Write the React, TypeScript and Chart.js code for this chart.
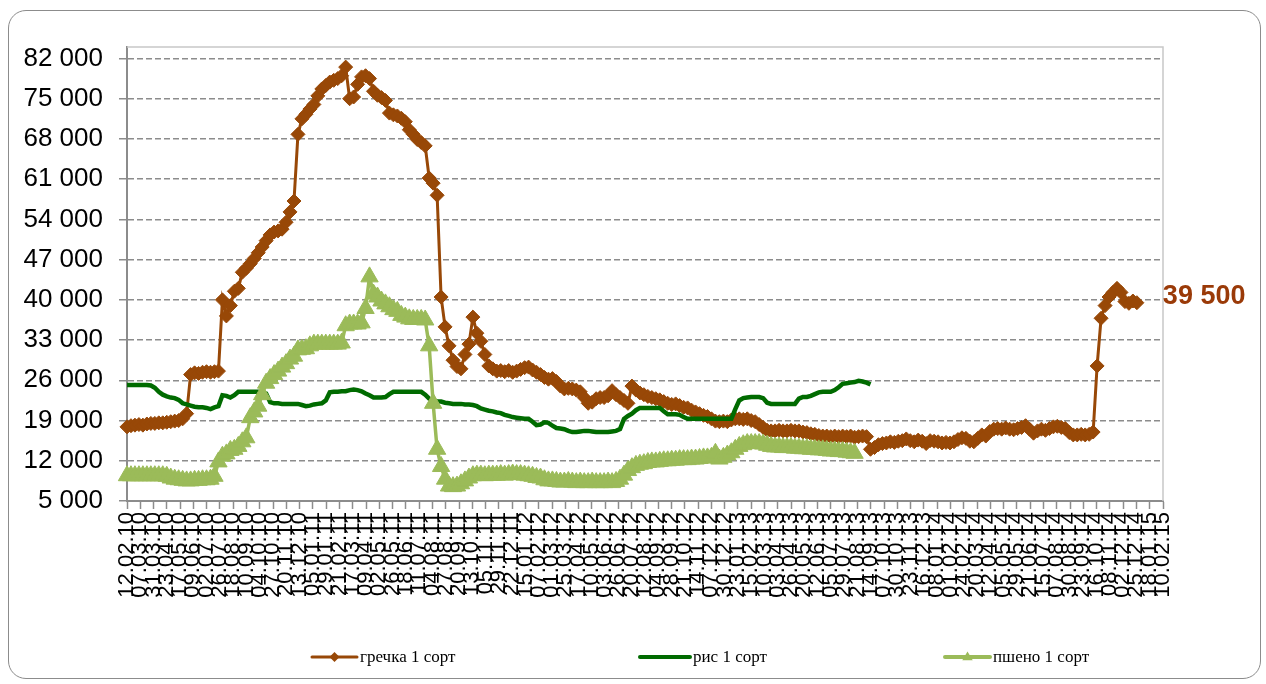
import React, { useEffect, useRef } from 'react';
import { Chart, registerables } from 'chart.js';

Chart.register(...registerables);

// ---------- data ----------
const SERIES_NAMES = ['гречка 1 сорт', 'рис 1 сорт', 'пшено 1 сорт'];

// x-axis tick labels (dd.mm.yy), evenly spread over the period 12.02.10 – 10.02.15
const X_LABELS = [
  '12.02.10', '07.03.10', '31.03.10', '23.04.10', '17.05.10', '09.06.10', '02.07.10', '26.07.10',
  '18.08.10', '10.09.10', '04.10.10', '27.10.10', '20.11.10', '13.12.10', '05.01.11', '29.01.11',
  '21.02.11', '17.03.11', '09.04.11', '02.05.11', '26.05.11', '18.06.11', '11.07.11', '04.08.11',
  '27.08.11', '20.09.11', '13.10.11', '05.11.11', '29.11.11', '22.12.11', '15.01.12', '07.02.12',
  '01.03.12', '25.03.12', '17.04.12', '10.05.12', '03.06.12', '26.06.12', '20.07.12', '12.08.12',
  '04.09.12', '28.09.12', '21.10.12', '14.11.12', '07.12.12', '30.12.12', '23.01.13', '15.02.13',
  '10.03.13', '03.04.13', '26.04.13', '20.05.13', '12.06.13', '05.07.13', '29.07.13', '21.08.13',
  '14.09.13', '07.10.13', '30.10.13', '23.11.13', '16.12.13', '08.01.14', '01.02.14', '24.02.14',
  '20.03.14', '12.04.14', '05.05.14', '29.05.14', '21.06.14', '15.07.14', '07.08.14', '30.08.14',
  '23.09.14', '16.10.14', '08.11.14', '02.12.14', '25.12.14', '18.01.15', '10.02.15',
];

// period length in weeks (12.02.10 .. 10.02.15 = 1824 days)
const TOTAL_WEEKS = 1824 / 7;

const Y_TICKS = [5000, 12000, 19000, 26000, 33000, 40000, 47000, 54000, 61000, 68000, 75000, 82000];
const Y_MIN = 5000;
const Y_MAX = 84000;

// weekly prices
const BUCKWHEAT = [
  17900, 18100, 18200, 18300, 18200, 18400, 18500, 18500, 18600, 18600, 18700, 18800, 18900, 19000, 19300,
  20200, 27000, 27300, 27200, 27400, 27500, 27400, 27500, 27600,
  40000, 37200, 39000, 41500, 42000, 44800,
  45500, 46300, 47200, 48200, 49200, 50300, 51300, 51800, 52000, 52300,
  53500, 55300, 57200, 68800, 71500, 72300, 73200, 74000, 75500, 76700,
  77300, 77900, 78200, 78500, 79000, 80500, 75000, 75300, 77500, 78800,
  79000, 78500, 76300, 75600, 75200, 74700, 72500, 72200, 72000, 71600,
  71000, 69600, 68800, 67900, 67400, 66800, 61200, 60300, 58200, 40500,
  35300, 32000, 29500, 28400, 28000, 30500, 32300, 37000, 34200, 32800,
  30500, 28500, 28000, 27600, 27700, 27500, 27700, 27400, 27600, 27900,
  28200, 28300, 27800, 27400, 27000, 26500, 26200, 26300, 25800, 25000,
  24500, 24600, 24500, 24300, 24000, 23000, 22000, 22200, 22800, 23000,
  23000, 23300, 24200, 23500, 23000, 22500, 22000, 25000, 24300, 23800,
  23500, 23200, 23000, 22800, 22600, 22300, 22000, 21800, 21900, 21600,
  21300, 21200, 20800, 20500, 20200, 19900, 19700, 19300, 18900, 18800,
  18900, 18800, 19100, 19300, 19300, 19200, 19300, 19000, 18800, 18300,
  17800, 17300, 17200, 17200, 17300, 17200, 17200, 17300, 17200, 17200,
  17000, 16900, 16700, 16600, 16400, 16300, 16300, 16200, 16300, 16200,
  16300, 16200, 16300, 16100, 16200, 16300, 16200, 14000, 14300, 14800,
  15000, 15100, 15300, 15200, 15400, 15500, 15800, 15500, 15300, 15600,
  15400, 15000, 15500, 15400, 15300, 15100, 15200, 15100, 15300, 15700,
  16000, 15900, 15400, 15300, 15900, 16500, 16300, 17100, 17500, 17600,
  17500, 17700, 17500, 17400, 17600, 17800, 18100, 17500, 16800, 17200,
  17500, 17300, 17600, 17900, 18000, 17800, 17600, 16900, 16500, 16500,
  16600, 16500, 16600, 17000, 28500, 36800, 39000, 40500, 41300, 42000,
  41300, 39700, 39400, 39800, 39500,
];

const RICE = [
  25200, 25200, 25200, 25200, 25200, 25200, 25100, 24700, 24000, 23500,
  23200, 23000, 22900, 22600, 22000, 21800, 21600, 21400, 21300, 21300,
  21200, 21000, 21300, 21500, 23400, 23300, 23000, 23400, 24000, 24000,
  24000, 24000, 24000, 24000, 23900, 23700, 22200, 22000, 22000, 21900,
  21900, 21900, 21900, 21900, 21700, 21500, 21600, 21800, 21900, 22000,
  22500, 23900, 24000, 24000, 24100, 24100, 24300, 24400, 24300, 24100,
  23700, 23400, 23000, 23000, 23000, 23100, 23600, 24000, 24000, 24000,
  24000, 24000, 24000, 24000, 24000, 23500, 22800, 22500, 22300, 22300,
  22100, 22000, 21900, 21900, 21900, 21800, 21800, 21700, 21500, 21100,
  20900, 20700, 20600, 20400, 20300, 20000, 19800, 19600, 19500, 19400,
  19300, 19300, 18800, 18200, 18300, 18700, 18600, 18100, 17700, 17600,
  17500, 17200, 17000, 17000, 17100, 17200, 17200, 17100, 17000, 17000,
  17000, 17000, 17100, 17200, 17500, 19300, 19800, 20200, 20800, 21200,
  21200, 21200, 21200, 21200, 21200, 20600, 20100, 20100, 20100, 20000,
  19600, 19300, 19300, 19300, 19300, 19300, 19300, 19300, 19300, 19300,
  19300, 19300, 19300, 21000, 22500, 22900, 23000, 23100, 23100, 23100,
  22900, 22100, 21900, 21900, 21900, 21900, 21900, 21900, 21900, 22800,
  23100, 23100, 23300, 23600, 23900, 24000, 24000, 24000, 24300, 24800,
  25400, 25500, 25600, 25700, 25900, 25800, 25600, 25300,
];

const MILLET = [
  9400, 9400, 9400, 9400, 9400, 9400, 9400, 9400, 9400, 9400,
  9300, 9000, 8800, 8700, 8600, 8500, 8500, 8600, 8600, 8700,
  8700, 8800, 9300, 11800, 12800, 13200, 13800, 14000, 14500, 15300,
  16000, 19500, 20500, 21500, 23500, 25500, 26300, 27000, 27600, 28300,
  28900, 29700, 30200, 31300, 31400, 31500, 32000, 32300, 32300, 32300,
  32300, 32300, 32300, 32300, 32500, 35500, 35800, 35800, 35800, 36000,
  38500, 44000, 41000, 40500, 39800, 39300, 38800, 38300, 38000, 37300,
  37000, 36700, 36600, 36600, 36600, 36500, 32000, 22000, 14000, 11000,
  8800, 7600, 7500, 7600, 8000, 8500, 9000, 9400, 9500, 9500,
  9400, 9500, 9500, 9500, 9600, 9500, 9600, 9700, 9600, 9600,
  9500, 9400, 9300, 9100, 9000, 8700, 8500, 8500, 8400, 8300,
  8300, 8400, 8300, 8200, 8300, 8200, 8200, 8300, 8200, 8200,
  8200, 8300, 8200, 8400, 8800, 9500, 10300, 10800, 11200, 11400,
  11500, 11700, 11800, 11800, 11900, 12000, 12000, 12100, 12100, 12200,
  12200, 12200, 12300, 12300, 12400, 12500, 12500, 12600, 13300, 12300,
  12600, 13000, 13400, 14000, 14500, 14800, 15000, 15000, 15000, 15000,
  14900, 14700, 14500, 14400, 14400, 14300, 14300, 14300, 14200, 14200,
  14100, 14100, 14000, 14000, 13900, 13900, 13800, 13700, 13700, 13600,
  13600, 13500, 13400, 13300,
];

// ---------- styles ----------
const BROWN = '#984807';
const GREEN = '#006B00';
const LIGHT = '#9BBB59';
const SANS = "'Liberation Sans', Arial, sans-serif";
const SERIF = "'Liberation Serif', 'Times New Roman', serif";

const fmt = (v: number) => String(Math.round(v)).replace(/\B(?=(\d{3})+(?!\d))/g, ' ');

const toPoints = (arr: number[]) => arr.map((v, i) => ({ x: i, y: v }));

function drawDiamond(ctx: CanvasRenderingContext2D, x: number, y: number, r: number) {
  ctx.beginPath();
  ctx.moveTo(x, y - r);
  ctx.lineTo(x + r, y);
  ctx.lineTo(x, y + r);
  ctx.lineTo(x - r, y);
  ctx.closePath();
  ctx.fill();
}

function drawTriangle(ctx: CanvasRenderingContext2D, x: number, y: number, r: number) {
  ctx.beginPath();
  ctx.moveTo(x, y - r);
  ctx.lineTo(x + r * 0.95, y + r * 0.6);
  ctx.lineTo(x - r * 0.95, y + r * 0.6);
  ctx.closePath();
  ctx.fill();
}

const overlayPlugin = {
  id: 'overlay',
  beforeDatasetsDraw(chart: any) {
    const { ctx, chartArea: a } = chart;
    ctx.save();
    ctx.strokeStyle = '#c8c8c8';
    ctx.lineWidth = 1.5;
    ctx.beginPath();
    ctx.moveTo(a.left, a.top);
    ctx.lineTo(a.right, a.top);
    ctx.lineTo(a.right, a.bottom);
    ctx.stroke();
    ctx.restore();
  },
  afterDraw(chart: any) {
    const { ctx } = chart;
    const xs = chart.scales.x;
    const ys = chart.scales.y;
    ctx.save();
    // data label of the last buckwheat value
    const li = BUCKWHEAT.length - 1;
    const px = xs.getPixelForValue(li);
    const py = ys.getPixelForValue(BUCKWHEAT[li]);
    ctx.fillStyle = '#9A3A08';
    ctx.font = `bold 27px ${SANS}`;
    ctx.textAlign = 'left';
    ctx.textBaseline = 'middle';
    ctx.fillText(fmt(BUCKWHEAT[li]), px + 26, py - 6);

    // legend
    const ly = 657;
    const items = [
      { x0: 312, x1: 357, color: BROWN, lw: 3, marker: 'diamond' },
      { x0: 640, x1: 690, color: GREEN, lw: 4, marker: '' },
      { x0: 945, x1: 990, color: LIGHT, lw: 4, marker: 'triangle' },
    ];
    items.forEach((it, i) => {
      ctx.strokeStyle = it.color;
      ctx.fillStyle = it.color;
      ctx.lineWidth = it.lw;
      ctx.lineCap = 'round';
      ctx.beginPath();
      ctx.moveTo(it.x0, ly);
      ctx.lineTo(it.x1, ly);
      ctx.stroke();
      const cx = (it.x0 + it.x1) / 2;
      if (it.marker === 'diamond') drawDiamond(ctx, cx, ly, 5);
      if (it.marker === 'triangle') drawTriangle(ctx, cx, ly, 5.5);
      ctx.fillStyle = '#000';
      ctx.font = `17px ${SERIF}`;
      ctx.textAlign = 'left';
      ctx.textBaseline = 'middle';
      ctx.fillText(SERIES_NAMES[i], it.x1 + 3, ly + 1);
    });
    ctx.restore();
  },
};

export default function App() {
  const ref = useRef<HTMLCanvasElement | null>(null);

  useEffect(() => {
    if (!ref.current) return;
    const chart = new Chart(ref.current, {
      type: 'line',
      data: {
        datasets: [
          {
            label: SERIES_NAMES[0],
            data: toPoints(BUCKWHEAT),
            borderColor: BROWN,
            backgroundColor: BROWN,
            borderWidth: 3,
            pointStyle: 'rectRot',
            pointRadius: 7,
            pointBorderWidth: 1,
            pointBackgroundColor: BROWN,
            pointBorderColor: BROWN,
            tension: 0,
            clip: false,
            order: 3,
          },
          {
            label: SERIES_NAMES[1],
            data: toPoints(RICE),
            borderColor: GREEN,
            backgroundColor: GREEN,
            borderWidth: 4.5,
            pointRadius: 0,
            tension: 0,
            clip: false,
            order: 2,
          },
          {
            label: SERIES_NAMES[2],
            data: toPoints(MILLET),
            borderColor: LIGHT,
            backgroundColor: LIGHT,
            borderWidth: 3.5,
            pointStyle: 'triangle',
            pointRadius: 10,
            pointBorderWidth: 1,
            pointBackgroundColor: LIGHT,
            pointBorderColor: LIGHT,
            tension: 0,
            clip: false,
            order: 1,
          },
        ],
      },
      options: {
        responsive: false,
        animation: false,
        events: [],
        layout: { padding: { left: 0, right: 103, top: 47, bottom: 0 } },
        plugins: {
          legend: { display: false },
          tooltip: { enabled: false },
        },
        scales: {
          x: {
            type: 'linear',
            min: 0,
            max: TOTAL_WEEKS,
            afterBuildTicks: (s: any) => {
              s.ticks = X_LABELS.map((_, i) => ({ value: (i * TOTAL_WEEKS) / (X_LABELS.length - 1) }));
            },
            afterFit: (s: any) => {
              s.height = 183;
            },
            ticks: {
              autoSkip: false,
              maxRotation: 90,
              minRotation: 90,
              padding: 3,
              color: '#000',
              font: { family: SANS, size: 22 },
              callback: (_v: any, i: number) => X_LABELS[i],
            },
            grid: {
              drawOnChartArea: false,
              drawTicks: true,
              tickLength: 8,
              tickColor: '#8c8c8c',
              tickWidth: 1.5,
            },
            border: { color: '#8c8c8c', width: 2 },
          },
          y: {
            type: 'linear',
            min: Y_MIN,
            max: Y_MAX,
            afterBuildTicks: (s: any) => {
              s.ticks = Y_TICKS.map((v) => ({ value: v }));
            },
            afterFit: (s: any) => {
              s.width = 127;
            },
            ticks: {
              padding: 16,
              color: '#000',
              font: { family: SANS, size: 26 },
              callback: (v: any) => fmt(Number(v)),
            },
            grid: {
              color: '#8c8c8c',
              lineWidth: 1.5,
              tickLength: 8,
              tickColor: '#8c8c8c',
              tickWidth: 1.5,
            },
            border: { color: '#8c8c8c', width: 2, dash: [6, 3] },
          },
        },
      },
      plugins: [overlayPlugin],
    } as any);
    return () => chart.destroy();
  }, []);

  return (
    <div style={{ position: 'fixed', left: 0, top: 0, width: 1266, height: 684, background: '#fff' }}>
      <div
        style={{
          position: 'absolute',
          left: 8,
          top: 10,
          width: 1253,
          height: 669,
          border: '1.5px solid #8c8c8c',
          borderRadius: 18,
          boxSizing: 'border-box',
        }}
      />
      <canvas ref={ref} width={1266} height={684} style={{ position: 'absolute', left: 0, top: 0 }} />
    </div>
  );
}
